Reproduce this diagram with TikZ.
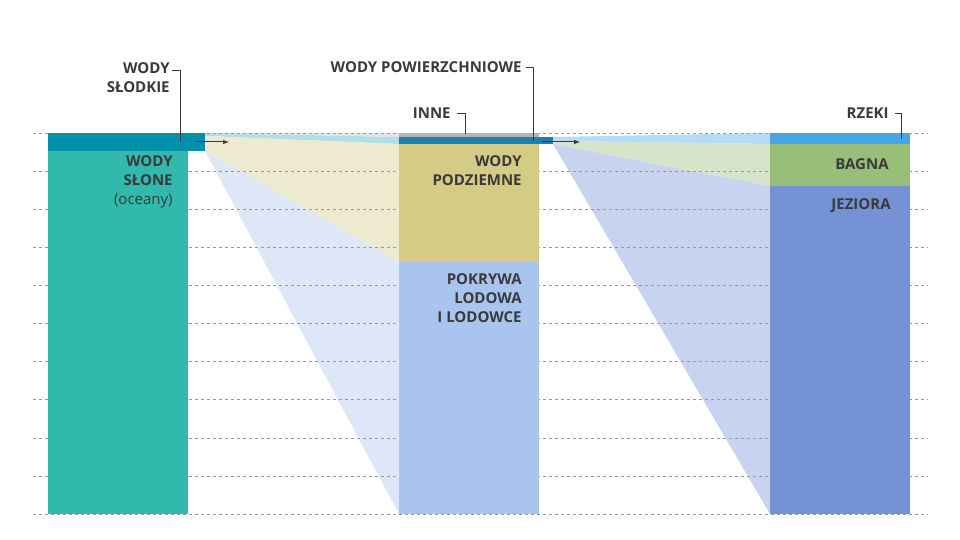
\documentclass[tikz,border=0pt]{standalone}
\usepackage{fontspec}
\setmainfont{Open Sans}
\usetikzlibrary{positioning}
\definecolor{salt}{HTML}{30B9AC}
\definecolor{fresh}{HTML}{0090AB}
\definecolor{surf}{HTML}{1E80AE}
\definecolor{other}{HTML}{B4B4B4}
\definecolor{ground}{HTML}{D4CB86}
\definecolor{ice}{HTML}{A9C4EE}
\definecolor{river}{HTML}{45A6E8}
\definecolor{swamp}{HTML}{99BE7A}
\definecolor{lake}{HTML}{7592D6}
\definecolor{txt}{HTML}{3A3A3A}
\tikzset{every picture/.style={line width=0.75pt}}
\tikzset{
  grid/.style={gray!80,dashed,line width=0.6pt},
  lbl/.style={font=\bfseries\fontsize{15}{19}\selectfont,text=txt,align=right,inner sep=0pt},
  leader/.style={draw=txt,line width=0.8pt},
  flow/.style={-latex,draw=txt,line width=1pt}
}
\begin{document}
\begin{tikzpicture}[x=1pt,y=1pt,yscale=-1]
	\useasboundingbox (0,0) rectangle (960,540);
	
	%projections
	\fill[gray!20] (205,133) -- (399,133) -- (399,137) -- cycle;
	\fill[fresh!30] (205,133) -- (399,137) -- (399,144) -- (205,136) -- cycle;
	\fill[ground!40] (205,136) -- (399,144) -- (399,262) -- (205,151) -- cycle;
	\fill[ice!40] (205,151) -- (399,262) -- (399,514) -- cycle;
	\fill[river!40] (553,137) -- (770,133) -- (770,144) -- (553,141) -- cycle;
	\fill[swamp!40] (553,141) -- (770,144) -- (770,186) -- (553,144) -- cycle;
	\fill[lake!40] (553,144) -- (770,186) -- (770,514) -- cycle;
	
	%grid
	\foreach \k in {0,...,10}
		\draw[grid] (33,{133+38.1*\k}) -- (928,{133+38.1*\k});
	
	%bars
	\fill[salt] (48,151) rectangle (188,514);
	\fill[fresh] (48,133) rectangle (205,151);
	\fill[other] (399,133) rectangle (539,137);
	\fill[surf] (399,137) rectangle (553,144);
	\fill[ground] (399,144) rectangle (539,262);
	\fill[ice] (399,262) rectangle (539,514);
	\fill[river] (770,133) rectangle (910,144);
	\fill[swamp] (770,144) rectangle (910,186);
	\fill[lake] (770,186) rectangle (910,514);
	
	%arrows
	\coordinate (fa) at (196,142);
	\coordinate (fb) at (229,142);
	\coordinate (sa) at (542,142);
	\coordinate (sb) at (580,142);
	\draw[flow] (fa) -- (fb);
	\draw[flow] (sa) -- (sb);
	
	%labels inside
	\node[lbl,anchor=north east] (salt) at (173,155) {WODY\\SŁONE\\{\mdseries (oceany)}};
	\node[lbl,anchor=north east] (ground) at (522,155) {WODY\\PODZIEMNE};
	\node[lbl,anchor=north east] (ice) at (522,273) {POKRYWA\\LODOWA\\I LODOWCE};
	\node[lbl,anchor=east] (swamp) at (889,164) {BAGNA};
	\node[lbl,anchor=east] (lake) at (891,206) {JEZIORA};
	
	%labels outside with leaders
	\node[lbl,anchor=north east] (fresh) at (170,62) {WODY\\SŁODKIE};
	\node[lbl,anchor=east] (surf) at (522,67) {WODY POWIERZCHNIOWE};
	\node[lbl,anchor=east] (other) at (451,113) {INNE};
	\node[lbl,anchor=east] (river) at (889,113) {RZEKI};
	\coordinate (fl) at (172,70);
	\coordinate (fe) at (180,141);
	\coordinate (se) at (533,141);
	\coordinate (oe) at (465,134);
	\coordinate (re) at (901,139);
	\draw[leader] (fl) -| (fe);
	\draw[leader] ([xshift=4pt]surf.east) -| (se);
	\draw[leader] ([xshift=6pt]other.east) -| (oe);
	\draw[leader] ([xshift=6pt]river.east) -| (re);
\end{tikzpicture}
\end{document}
